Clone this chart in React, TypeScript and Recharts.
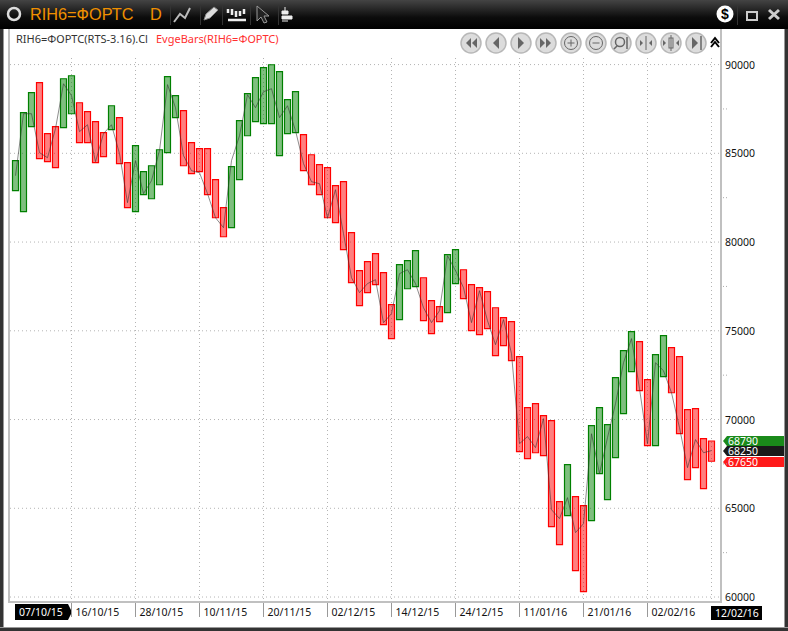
import React from "react";
import { ComposedChart, Bar, Line, XAxis, YAxis, CartesianGrid, Cell, ReferenceDot } from "recharts";

const dates = [
  "07/10/15","08/10/15","09/10/15","12/10/15","13/10/15","14/10/15","15/10/15","16/10/15",
  "19/10/15","20/10/15","21/10/15","22/10/15","23/10/15","26/10/15","27/10/15","28/10/15",
  "29/10/15","30/10/15","02/11/15","03/11/15","05/11/15","06/11/15","09/11/15","10/11/15",
  "11/11/15","12/11/15","13/11/15","16/11/15","17/11/15","18/11/15","19/11/15","20/11/15",
  "23/11/15","24/11/15","25/11/15","26/11/15","27/11/15","30/11/15","01/12/15","02/12/15",
  "03/12/15","04/12/15","07/12/15","08/12/15","09/12/15","10/12/15","11/12/15","14/12/15",
  "15/12/15","16/12/15","17/12/15","18/12/15","21/12/15","22/12/15","23/12/15","24/12/15",
  "25/12/15","28/12/15","29/12/15","30/12/15","05/01/16","06/01/16","08/01/16","11/01/16",
  "12/01/16","13/01/16","14/01/16","15/01/16","18/01/16","19/01/16","20/01/16","21/01/16",
  "22/01/16","25/01/16","26/01/16","27/01/16","28/01/16","29/01/16","01/02/16","02/02/16",
  "03/02/16","04/02/16","05/02/16","08/02/16","09/02/16","10/02/16","11/02/16","12/02/16",
];
const highs = [
  84590,87290,88420,88980,86110,86500,89200,89370,87850,87350,86780,86160,87680,87010,84470,85430,
  83970,84300,85200,89320,88250,87400,85600,85260,85260,83520,81940,84250,86840,88360,89260,89830,
  89990,89600,88020,88470,86050,84920,84360,84190,83180,83400,80530,78390,78900,79350,78280,76470,
  78730,78950,79520,77990,76700,76360,79290,79570,78440,77600,77430,77210,76300,75740,75520,73540,
  70670,70900,70220,69940,65370,67460,65660,65150,69660,70670,69710,72360,73880,74950,74390,72250,
  73660,74730,74050,73540,70560,70610,68920,68790,
];
const lows = [
  82900,81710,86500,84700,84530,84190,86450,87230,85600,85600,84470,84810,86330,84420,81940,81710,
  82670,82440,83230,85040,87010,84300,83850,83970,82670,81370,80300,80810,83520,85990,86780,86670,
  86670,84870,86110,86160,84020,83230,82670,81370,81090,79570,77710,76420,77150,77600,75350,74560,
  75630,77370,77490,75570,74840,75520,76020,77660,76810,75010,74780,75120,73600,74160,73320,68190,
  67800,68130,67970,63970,62950,64590,61490,60300,64300,66950,65490,67850,70330,72700,71630,68530,
  68530,72420,71510,69210,66610,67290,66110,67650,
];
const closes = [
  83740,87230,87230,85040,84750,86390,88920,88250,86220,86610,84530,86110,86610,84980,82220,84590,
  82730,83460,85150,88870,87570,84870,84020,83910,82730,81370,80810,84590,85990,88300,87570,88470,
  88640,87010,87680,86280,84420,83400,83290,81370,82950,80470,77990,77150,77660,77880,75460,75970,
  78220,78440,77660,76300,75460,76130,79230,78390,77430,75460,77260,75570,74220,75630,73710,68640,
  69040,68420,70050,64920,64420,65600,63630,64130,69200,66950,68980,70890,73200,74560,71740,68640,
  73200,72750,71510,69540,67290,68870,68130,68250,
];
const greenBars = [0,1,2,6,7,12,15,16,17,18,19,20,27,28,29,30,31,32,33,34,35,48,49,50,54,55,69,72,73,74,75,76,77,80,81];
const dateTicks = ["07/10/15","16/10/15","28/10/15","10/11/15","20/11/15","02/12/15","14/12/15","24/12/15","11/01/16","21/01/16","02/02/16","12/02/16"];
const gridDates = dateTicks.slice(1);
const priceTicks = [60000,62500,65000,67500,70000,72500,75000,77500,80000,82500,85000,87500,90000];
const priceGrid = [60000,65000,70000,75000,80000,85000,90000];
const lastLabels = [
  { price: 68790, color: "#1a8a1a", dy: 0 },
  { price: 68250, color: "#1a1a1a", dy: 0 },
  { price: 67650, color: "#ff1a1a", dy: 1 },
];
const navCenters = [471,496,521,546,571,596,621,646,671,696];
const toolbarSeparators = [170,200,222,250,278,737];

const rows = dates.map((date, i) => ({
  date,
  range: [lows[i], highs[i]],
  close: closes[i],
}));

const FONT = '"Noto Sans", sans-serif';

function DateTick(props: any) {
  const { x, payload } = props;
  const value = payload.value;
  if (value === dateTicks[0]) {
    return (
      <g>
        <polygon points={`${x - 0.5},604 ${x + 52.5},604 ${x + 56.5},612 ${x + 52.5},620 ${x - 0.5},620`} fill="#000" />
        <text x={x + 3.5} y={616} fontFamily={FONT} fontSize={10.5} fill="#fff">{value}</text>
      </g>
    );
  }
  if (value === dateTicks[dateTicks.length - 1]) {
    return (
      <g>
        <rect x={x - 0.5} y={606} width={51} height={14} fill="#000" />
        <text x={x + 3.5} y={617} fontFamily={FONT} fontSize={10.5} fill="#fff">{value}</text>
      </g>
    );
  }
  return (
    <g>
      <line x1={x} x2={x} y1={603} y2={617} stroke="#999" />
      <text x={x + 4} y={616} fontFamily={FONT} fontSize={10.5} fill="#111">{value}</text>
    </g>
  );
}

function PriceTick(props: any) {
  const { y, payload } = props;
  if (payload.value % 5000 !== 0) {
    return <line x1={723} x2={727} y1={y} y2={y} stroke="#aaa" strokeDasharray="1 2" />;
  }
  return <text x={725} y={y + 4} fontFamily={FONT} fontSize={10.5} fill="#111">{payload.value}</text>;
}

function LastFlag(props: any) {
  const { cy, color, price, dy } = props;
  const top = Math.round(cy) - 5 + dy;
  return (
    <g>
      <polygon points={`723,${top + 5} 727,${top} 784,${top} 784,${top + 10} 727,${top + 10}`} fill={color} />
      <text x={728} y={top + 9} fontFamily={FONT} fontSize={10.5} fill="#fff">{price}</text>
    </g>
  );
}

function NavGlyph({ i, cx }: { i: number; cx: number }) {
  const c = "#666";
  const cy = 43;
  const tri = (x: number, dir: number, s = 5) => (
    <polygon points={`${x},${cy - s} ${x},${cy + s} ${x + dir * s},${cy}`} fill={c} />
  );
  switch (i) {
    case 0: return <g>{tri(cx, -1)}{tri(cx + 6, -1)}</g>;
    case 1: return tri(cx + 3, -1, 6);
    case 2: return tri(cx - 3, 1, 6);
    case 3: return <g>{tri(cx - 6, 1)}{tri(cx, 1)}</g>;
    case 4: return <g><circle cx={cx} cy={cy} r={6.5} fill="none" stroke={c} /><path d={`M${cx - 3.5} ${cy}H${cx + 3.5}M${cx} ${cy - 3.5}V${cy + 3.5}`} stroke={c} /></g>;
    case 5: return <g><circle cx={cx} cy={cy} r={6.5} fill="none" stroke={c} /><path d={`M${cx - 3.5} ${cy}H${cx + 3.5}`} stroke={c} /></g>;
    case 6: return <g><circle cx={cx - 1} cy={cy - 1} r={4.5} fill="none" stroke={c} strokeWidth={1.5} /><path d={`M${cx - 4} ${cy + 3}L${cx - 7} ${cy + 6}M${cx + 6} ${cy - 6}V${cy + 6}`} stroke={c} strokeWidth={1.5} /></g>;
    case 7: return <g><path d={`M${cx} ${cy - 7}V${cy + 7}`} stroke={c} />{tri(cx - 6, 1, 3)}{tri(cx + 6, -1, 3)}</g>;
    case 8: return <g><rect x={cx - 2} y={cy - 5} width={4} height={10} fill="none" stroke={c} /><path d={`M${cx} ${cy - 8}V${cy + 8}`} stroke={c} />{tri(cx - 8, 1, 3)}{tri(cx + 8, -1, 3)}</g>;
    default: return <g>{tri(cx - 4, 1, 6)}<path d={`M${cx + 5} ${cy - 7}V${cy + 7}`} stroke={c} strokeWidth={1.5} /></g>;
  }
}

function Chrome() {
  return (
    <svg width={788} height={631} style={{ position: "absolute", left: 0, top: 0 }}>
      <defs>
        <linearGradient id="bar" x1="0" x2="0" y1="0" y2="1">
          <stop offset="0" stopColor="#444" />
          <stop offset="0.6" stopColor="#0c0c0c" />
          <stop offset="1" stopColor="#000" />
        </linearGradient>
      </defs>
      <rect x={0} y={0} width={788} height={631} fill="#fff" />
      <rect x={0} y={0} width={788} height={29} fill="url(#bar)" />
      <rect x={0} y={29} width={3} height={602} fill="#333" />
      <rect x={3} y={29} width={1} height={602} fill="#999" />
      <rect x={8} y={29} width={2} height={574} fill="#c0c0c0" />
      <rect x={784} y={29} width={1} height={602} fill="#999" />
      <rect x={785} y={29} width={3} height={602} fill="#333" />
      <rect x={0} y={627} width={788} height={1} fill="#999" />
      <rect x={0} y={628} width={788} height={3} fill="#333" />
      <rect x={8} y={601} width={714} height={2} fill="#c0c0c0" />
      <rect x={720} y={29} width={2} height={574} fill="#c0c0c0" />

      <circle cx={14} cy={14} r={6} fill="none" stroke="#ddd" strokeWidth={2.5} />
      <text x={30} y={20} fontFamily='"Liberation Sans", sans-serif' fontSize={16.3} fill="#f09000">RIH6=ФОРТС</text>
      <text x={150} y={20} fontFamily='"Liberation Sans", sans-serif' fontSize={16.3} fill="#f09000">D</text>
      {toolbarSeparators.map((x) => (
        <rect key={x} x={x} y={5} width={1} height={20} fill="#333" />
      ))}
      <path d="M174 22L180 14L185 18L190 8" fill="none" stroke="#bbb" strokeWidth={2} />
      <path d="M204 20L206 14L214 7L218 10L210 18Z" fill="#ddd" stroke="#888" />
      <path d="M228 9V13M232 9V15M236 11V17M240 11V16M244 9V14M228 20H246" stroke="#eee" strokeWidth={2.5} fill="none" />
      <path d="M257 6L257 21L261 17L264 23L267 22L264 16L269 16Z" fill="#222" stroke="#999" />
      <path d="M285 7V11M282 11H288V14H282ZM282 16H292V19H282ZM282 21H288" stroke="#eee" fill="#eee" />
      <circle cx={725} cy={14} r={8.5} fill="#fff" />
      <text x={725} y={19} textAnchor="middle" fontFamily='"Liberation Sans", sans-serif' fontWeight="bold" fontSize={14} fill="#000">$</text>
      <rect x={747} y={12} width={10} height={8} fill="none" stroke="#ccc" strokeWidth={2} />
      <path d="M769 10L779 19M779 10L769 19" stroke="#ccc" strokeWidth={3} />

      <text x={16} y={43} fontFamily={FONT} fontSize={11} fill="#333">RIH6=ФОРТС(RTS-3.16).Cl</text>
      <text x={156} y={43} fontFamily={FONT} fontSize={11} fill="#ff3030">EvgeBars(RIH6=ФОРТС)</text>

      {navCenters.map((cx, i) => (
        <g key={cx}>
          <circle cx={cx} cy={43} r={10} fill="#dcdcdc" stroke="#b8b8b8" strokeWidth={1.5} />
          <NavGlyph i={i} cx={cx} />
        </g>
      ))}
      <path d="M711 43L715 38L719 43M711 47L715 42L719 47" fill="none" stroke="#000" strokeWidth={2} />
    </svg>
  );
}

export default function App() {
  return (
    <div style={{ position: "absolute", left: 0, top: 0, width: 788, height: 631, overflow: "hidden" }}>
      <Chrome />
      <div style={{ position: "absolute", left: 0, top: 0 }}>
        <ComposedChart
          width={788}
          height={631}
          data={rows}
          barCategoryGap={0}
          margin={{ top: 58, right: 0, bottom: 0, left: 10 }}
        >
          <CartesianGrid
            stroke="#b4b4b4"
            strokeDasharray="1 3"
            horizontalValues={priceGrid}
            verticalValues={gridDates}
          />
          <XAxis
            dataKey="date"
            ticks={dateTicks}
            interval={0}
            height={29}
            axisLine={false}
            tickLine={false}
            padding={{ left: 1.5, right: 5.5 }}
            tick={<DateTick />}
          />
          <YAxis
            orientation="right"
            width={67}
            domain={[59720, 90370]}
            ticks={priceTicks}
            interval={0}
            axisLine={false}
            tickLine={false}
            tick={<PriceTick />}
          />
          <Bar dataKey="range" barSize={6} strokeWidth={1.2} isAnimationActive={false}>
            {rows.map((row, i) => {
              const up = greenBars.includes(i);
              return (
                <Cell
                  key={row.date}
                  fill={up ? "rgba(0,128,0,0.5)" : "rgba(255,0,0,0.5)"}
                  stroke={up ? "#008000" : "#ff0000"}
                />
              );
            })}
          </Bar>
          <Line
            dataKey="close"
            type="linear"
            stroke="#333"
            strokeOpacity={0.7}
            strokeWidth={0.8}
            dot={false}
            isAnimationActive={false}
          />
          {lastLabels.map((l) => (
            <ReferenceDot
              key={l.price}
              x={dates[dates.length - 1]}
              y={l.price}
              ifOverflow="visible"
              shape={(p: any) => <LastFlag {...p} color={l.color} price={l.price} dy={l.dy} />}
            />
          ))}
        </ComposedChart>
      </div>
    </div>
  );
}
